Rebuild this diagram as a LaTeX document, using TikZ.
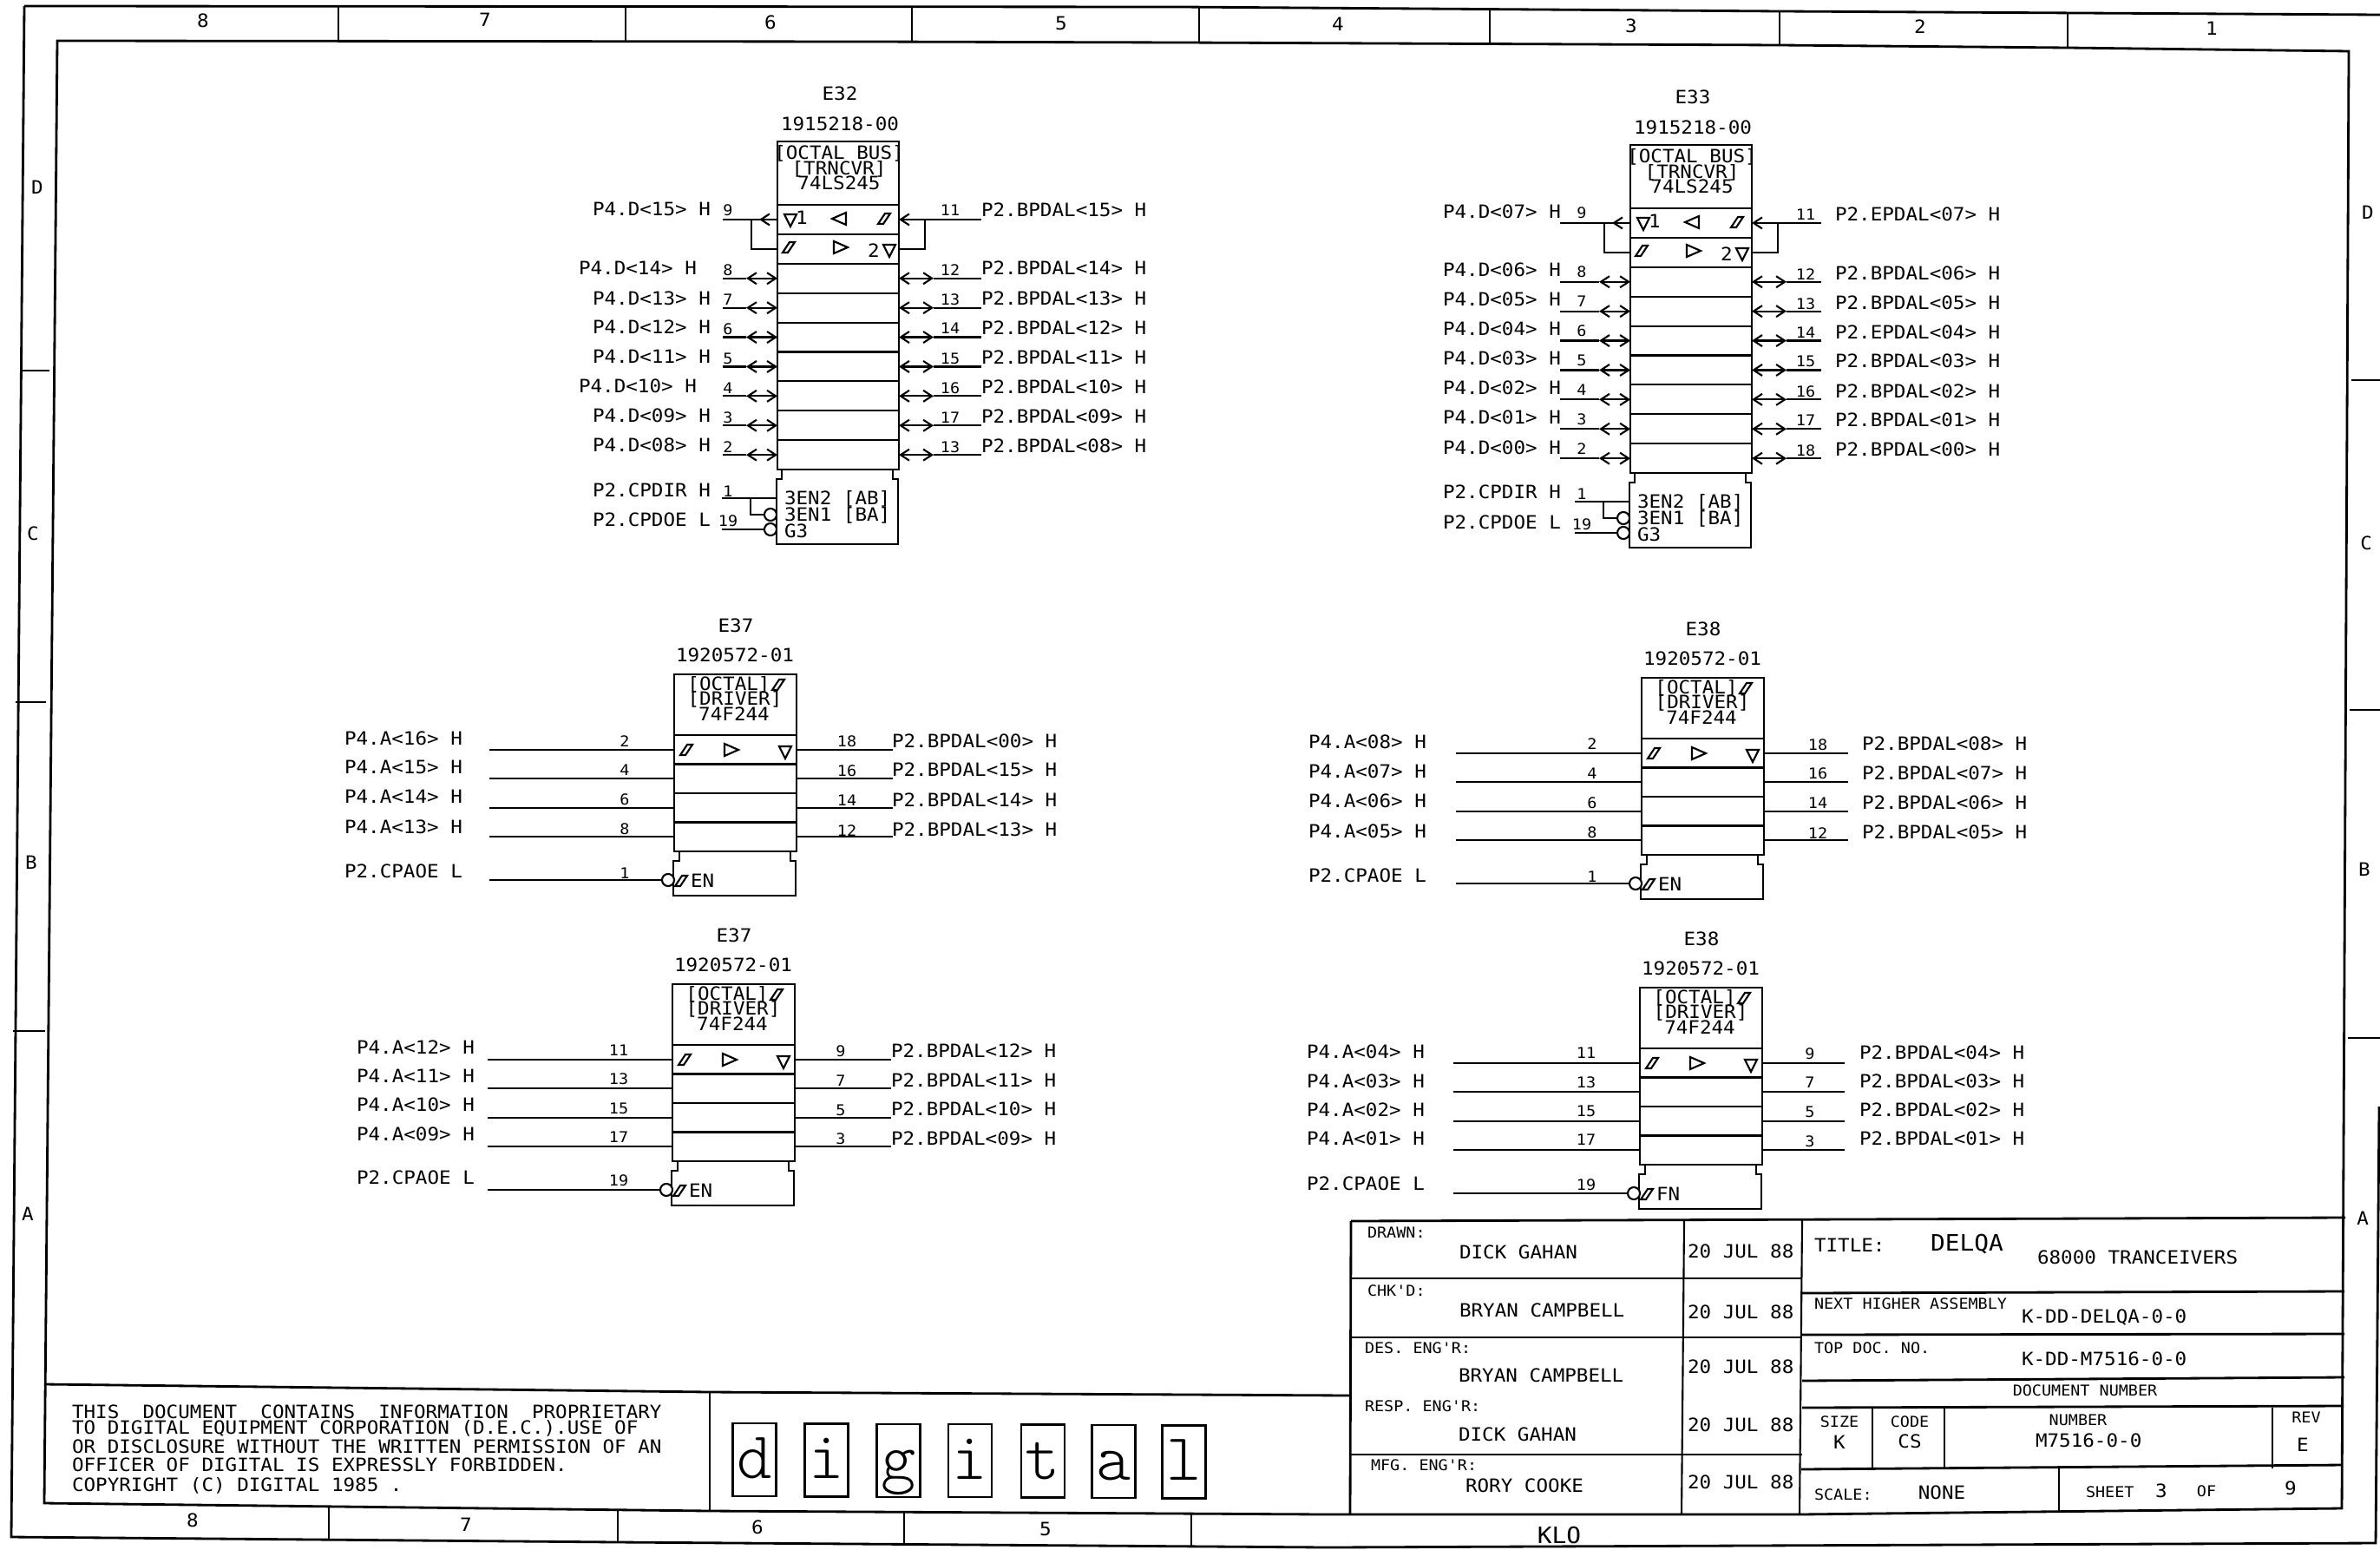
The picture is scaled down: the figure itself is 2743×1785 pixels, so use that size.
\documentclass[tikz,border=0pt]{standalone}
\usepackage{fontspec}
\usetikzlibrary{arrows.meta}
\newfontfamily\plotfont[FakeStretch=1.07]{DejaVu Sans Mono}
\tikzset{
    wire/.style={line width=0.6pt},
    frameline/.style={line width=0.8pt},
    thinrule/.style={line width=0.45pt},
    bidir/.style={wire,{Straight Barb[length=0.1cm,width=0.13cm]}-{Straight Barb[length=0.1cm,width=0.13cm]}},
    backarrow/.style={wire,-{Straight Barb[length=0.1cm,width=0.13cm]}},
    chipcell/.style 2 args={wire,draw,inner sep=0pt,outer sep=0pt,anchor=north west,minimum width=#1*0.01cm,minimum height=#2*0.01cm},
    bubble/.style={wire,draw,circle,fill=white,inner sep=0pt,outer sep=0pt,minimum size=0.14cm},
    sig/.style={font=\plotfont\fontsize{6}{7}\selectfont,inner sep=0pt,outer sep=0pt,text height=0.15cm,text depth=0pt},
    sigs/.style={font=\plotfont\fontsize{4.9}{6}\selectfont,inner sep=0pt,outer sep=0pt,text height=0.12cm,text depth=0pt},
    sigl/.style={font=\plotfont\fontsize{7.4}{9}\selectfont,inner sep=0pt,outer sep=0pt,text height=0.19cm,text depth=0pt},
    logobox/.style={wire,draw,inner sep=0pt,outer sep=0pt,minimum width=0.5cm,minimum height=0.84cm,text height=0.52cm,text depth=0.1cm,
        font=\fontfamily{lmtt}\fontseries{l}\fontsize{21.8}{24}\selectfont},
    hyst/.pic={\draw[wire] (-7,6) -- (-1,6) -- (7,-6) -- (1,-6) -- cycle;},
    tridown/.pic={\draw[wire] (-7,-7) -- (7,-7) -- (0,7) -- cycle;},
    trileft/.pic={\draw[wire] (8,-7) -- (8,7) -- (-8,0) -- cycle;},
    triright/.pic={\draw[wire] (-8,-7) -- (-8,7) -- (8,0) -- cycle;},
}
% id, title, left, top, west wire, east wire
\newcommand{\transcvr}[6]{
    \node[chipcell={140}{73}] (#1h) at (#3,#4) {};
    \foreach \row in {1,...,9}
        \node[chipcell={140}{33.9}] (#1r\row) at (#3,{#4+73+(\row-1)*33.9}) {};
    \draw[wire] (#1r9.south west) ++(5,0) -- ++(0,11) -- ++(-6,0) -- ++(0,75) -- ++(140,0) -- ++(0,-75) -- ++(-6,0) -- ++(0,-11);

    \node[sig] (#1a) at ({#3+71},{#4+13}) {[OCTAL BUS]};
    \node[sig] (#1b) at ({#3+71},{#4+31}) {[TRNCVR]};
    \node[sig] (#1d) at ({#3+71},{#4+48}) {74LS245};
    \node[sig] (#1e) at ({#3+72},{#4-55}) {#2};
    \node[sig] (#1f) at ({#3+72},{#4-20}) {1915218-00};

    \pic at ({#3+15},{#4+91}) {tridown};
    \node[sig] (#1s) at ({#3+28},{#4+88}) {1};
    \pic at ({#3+71},{#4+89}) {trileft};
    \pic at ({#3+123},{#4+89}) {hyst};
    \pic at ({#3+13},{#4+122}) {hyst};
    \pic at ({#3+73},{#4+122}) {triright};
    \node[sig] (#1u) at ({#3+111},{#4+126}) {2};
    \pic at ({#3+129},{#4+126}) {tridown};

    % enable rows
    \path (#1r1.west) ++(-#5,0) coordinate (#1w1);
    \path (#1r1.east) ++(#6,0) coordinate (#1x1);
    \path (#1r1.west) ++(-30,0) coordinate (#1y1);
    \path (#1r1.east) ++(30,0) coordinate (#1z1);
    \draw[backarrow] (#1r1.west) -- ++(-21,0);
    \draw[wire] (#1r1.west) -- (#1w1);
    \draw[backarrow] (#1x1) -- (#1r1.east);
    \draw[wire] (#1y1) |- (#1r2.west);
    \draw[wire] (#1z1) |- (#1r2.east);

    \foreach \row in {3,...,9} {
        \path (#1r\row.west) ++(-#5,0) coordinate (#1w\row);
        \path (#1r\row.west) ++(-36,0) coordinate (#1y\row);
        \path (#1r\row.east) ++(#6,0) coordinate (#1x\row);
        \path (#1r\row.east) ++(40,0) coordinate (#1z\row);
        \draw[wire] (#1w\row) -- (#1y\row);
        \draw[bidir] (#1y\row) -- (#1r\row.west);
        \draw[bidir] (#1r\row.east) -- (#1z\row);
        \draw[wire] (#1z\row) -- (#1x\row);
    }

    % control box
    \node[sig,anchor=west] (#1g) at ({#3+8},{#4+411}) {3EN2 [AB]};
    \node[sig,anchor=west] (#1i) at ({#3+8},{#4+430}) {3EN1 [BA]};
    \node[sig,anchor=west] (#1j) at ({#3+8},{#4+449}) {G3};
    \node[bubble] (#1k) at ({#3-8},{#4+430}) {};
    \node[bubble] (#1l) at ({#3-8},{#4+447}) {};
    \coordinate (#1m) at ({#3-64},{#4+411});
    \coordinate (#1n) at ({#3},{#4+411});
    \coordinate (#1o) at ({#3-31},{#4+411});
    \coordinate (#1q) at ({#3-64},{#4+447});
    \draw[wire] (#1m) -- (#1n);
    \draw[wire] (#1o) |- (#1k.west);
    \draw[wire] (#1q) -- (#1l.west);
}
% id, title, enable text, left, top, west wire, east wire
\newcommand{\driver}[7]{
    \node[chipcell={141}{70}] (#1h) at (#4,#5) {};
    \foreach \row in {1,...,4}
        \node[chipcell={141}{33.5}] (#1r\row) at (#4,{#5+70+(\row-1)*33.5}) {};
    \draw[wire] (#1r4.south west) ++(6,0) -- ++(0,11) -- ++(-7,0) -- ++(0,40) -- ++(141,0) -- ++(0,-40) -- ++(-6,0) -- ++(0,-11);

    \node[sig] (#1a) at ({#4+63},{#5+11}) {[OCTAL]};
    \pic at ({#4+120},{#5+12}) {hyst};
    \node[sig] (#1b) at ({#4+70},{#5+28}) {[DRIVER]};
    \node[sig] (#1d) at ({#4+69},{#5+46}) {74F244};
    \node[sig] (#1e) at ({#4+71},{#5-56}) {#2};
    \node[sig] (#1f) at ({#4+70},{#5-22}) {1920572-01};

    \pic at ({#4+14},{#5+87}) {hyst};
    \pic at ({#4+66},{#5+87}) {triright};
    \pic at ({#4+128},{#5+90}) {tridown};

    \foreach \row in {1,...,4} {
        \path (#1r\row.west) ++(-#6,0) coordinate (#1w\row);
        \path (#1r\row.east) ++(#7,0) coordinate (#1x\row);
        \draw[wire] (#1w\row) -- (#1r\row.west);
        \draw[wire] (#1r\row.east) -- (#1x\row);
    }

    % enable
    \pic at ({#4+8},{#5+238}) {hyst};
    \node[sig,anchor=west] (#1g) at ({#4+19},{#5+238}) {#3};
    \node[bubble] (#1k) at ({#4-7},{#5+237}) {};
    \coordinate (#1m) at ({#4-#6},{#5+237});
    \draw[wire] (#1m) -- (#1k.west);
}
% id, anchor, text x, pin x, list
\newcommand{\sigcol}[5]{
    \foreach \pin/\py/\lab/\ly in {#5} {
        \node[sigs] (#1n\pin) at (#4,\py) {\pin};
        \node[sig,anchor=#2] (#1t\pin) at (#3,\ly) {\lab};
    }
}
\begin{document}
\begin{tikzpicture}[x=0.01cm,y=-0.01cm]
    \useasboundingbox (0,0) rectangle (2743,1785);

    % drawing frame
    \draw[frameline] (28,7) -- (1360,8) -- (2051,13) -- (2743,17);
    \draw[frameline] (2742,1275) -- (2738,1778) -- (1530,1783) -- (712,1777) -- (13,1771) -- (28,7);
    \draw[frameline] (66,47) -- (1000,48) -- (1360,49) -- (2051,52) -- (2383,55) -- (2707,59) -- (2699,1738)
        -- (2074,1745) -- (1530,1745) -- (818,1741) -- (51,1732) -- cycle;

    \foreach \xx/\ya/\yb in {390/8/48,721/8/48,1051/8/49,1382/8/49,1717/10/50,2051/13/52,2383/15/55}
        \draw[thinrule] (\xx,\ya) -- (\xx,\yb);
    \foreach \xx/\ya/\yb in {379/1736/1775,712/1739/1777,1042/1742/1780,1373/1744/1782}
        \draw[thinrule] (\xx,\ya) -- (\xx,\yb);
    \foreach \ya/\xa/\xb in {427/23/57,809/18/53,1188/15/52,438/2710/2743,818/2708/2743,1196/2706/2743}
        \draw[thinrule] (\xa,\ya) -- (\xb,\ya);

    \foreach \id/\xx/\yy/\lab in {ta/234/24/8,tb/559/23/7,tc/888/26/6,td/1223/27/5,te/1542/28/4,tf/1880/30/3,tg/2213/31/2,th/2549/33/1,
            ba/222/1752/8,bb/537/1757/7,bc/873/1760/6,bd/1205/1762/5,
            la/43/216/D,lb/38/615/C,lc/36/994/B,ld/32/1399/A,
            ra/2729/245/D,rb/2727/626/C,rc/2725/1002/B,rd/2723/1404/A}
        \node[sig] (zone\id) at (\xx,\yy) {\lab};

    % transceivers
    \transcvr{e32}{E32}{896}{163}{63}{95}
    \sigcol{e32}{west}{683}{839}{9/242/{P4.D<15> H}/241,7/345/{P4.D<13> H}/344,6/379/{P4.D<12> H}/377,5/413/{P4.D<11> H}/411,
        3/481/{P4.D<09> H}/479,2/515/{P4.D<08> H}/513,1/566/{P2.CPDIR H}/565,19/600/{P2.CPDOE L}/599}
    \sigcol{e32}{west}{667}{839}{8/311/{P4.D<14> H}/309,4/447/{P4.D<10> H}/445}
    \sigcol{e32r}{west}{1131}{1095}{11/242/{P2.BPDAL<15> H}/242,12/311/{P2.BPDAL<14> H}/309,13/345/{P2.BPDAL<13> H}/344,14/378/{P2.BPDAL<12> H}/378,
        15/413/{P2.BPDAL<11> H}/412,16/447/{P2.BPDAL<10> H}/446,17/481/{P2.BPDAL<09> H}/480,13/515/{P2.BPDAL<08> H}/514}

    \transcvr{e33}{E33}{1879}{167}{81}{80}
    \sigcol{e33}{west}{1663}{1823}{9/245/{P4.D<07> H}/244,8/313/{P4.D<06> H}/311,7/347/{P4.D<05> H}/345,6/381/{P4.D<04> H}/379,
        5/415/{P4.D<03> H}/413,4/449/{P4.D<02> H}/447,3/483/{P4.D<01> H}/481,2/517/{P4.D<00> H}/516,1/569/{P2.CPDIR H}/567,19/604/{P2.CPDOE L}/602}
    \sigcol{e33r}{west}{2115}{2081}{11/247/{P2.EPDAL<07> H}/247,12/316/{P2.BPDAL<06> H}/315,13/350/{P2.BPDAL<05> H}/349,14/383/{P2.EPDAL<04> H}/383,
        15/416/{P2.BPDAL<03> H}/416,16/451/{P2.BPDAL<02> H}/451,17/484/{P2.BPDAL<01> H}/484,18/519/{P2.BPDAL<00> H}/518}

    % drivers
    \driver{e37u}{E37}{EN}{777}{777}{213}{111}
    \sigcol{e37u}{west}{397}{720}{2/854/{P4.A<16> H}/851,4/887/{P4.A<15> H}/884,6/921/{P4.A<14> H}/918,8/955/{P4.A<13> H}/953,1/1006/{P2.CPAOE L}/1004}
    \sigcol{e37ur}{west}{1028}{976}{18/854/{P2.BPDAL<00> H}/854,16/888/{P2.BPDAL<15> H}/887,14/922/{P2.BPDAL<14> H}/922,12/957/{P2.BPDAL<13> H}/956}

    \driver{e37l}{E37}{EN}{775}{1134}{213}{111}
    \sigcol{e37l}{west}{411}{713}{11/1210/{P4.A<12> H}/1207,13/1243/{P4.A<11> H}/1240,15/1277/{P4.A<10> H}/1273,17/1310/{P4.A<09> H}/1307,19/1360/{P2.CPAOE L}/1357}
    \sigcol{e37lr}{west}{1027}{969}{9/1211/{P2.BPDAL<12> H}/1211,7/1245/{P2.BPDAL<11> H}/1245,5/1279/{P2.BPDAL<10> H}/1278,3/1312/{P2.BPDAL<09> H}/1312}

    \driver{e38u}{E38}{EN}{1892}{781}{214}{97}
    \sigcol{e38u}{west}{1508}{1835}{2/857/{P4.A<08> H}/855,4/891/{P4.A<07> H}/889,6/925/{P4.A<06> H}/923,8/959/{P4.A<05> H}/958,1/1010/{P2.CPAOE L}/1009}
    \sigcol{e38ur}{west}{2146}{2095}{18/858/{P2.BPDAL<08> H}/857,16/891/{P2.BPDAL<07> H}/891,14/925/{P2.BPDAL<06> H}/925,12/960/{P2.BPDAL<05> H}/959}

    \driver{e38l}{E38}{FN}{1890}{1138}{215}{95}
    \sigcol{e38l}{west}{1506}{1828}{11/1213/{P4.A<04> H}/1212,13/1247/{P4.A<03> H}/1246,15/1280/{P4.A<02> H}/1279,17/1313/{P4.A<01> H}/1312,19/1365/{P2.CPAOE L}/1364}
    \sigcol{e38lr}{west}{2143}{2086}{9/1214/{P2.BPDAL<04> H}/1213,7/1247/{P2.BPDAL<03> H}/1246,5/1281/{P2.BPDAL<02> H}/1279,3/1315/{P2.BPDAL<01> H}/1312}

    % notice
    \draw[frameline] (51,1595) -- (818,1604) -- (1557,1608);
    \draw[thinrule] (818,1604) -- (818,1741);
    \node[sig,anchor=west] (notea) at (83,1627) {THIS\ \ DOCUMENT\ \ CONTAINS\ \ INFORMATION\ \ PROPRIETARY};
    \node[sig,anchor=west] (noteb) at (83,1645) {TO DIGITAL EQUIPMENT CORPORATION (D.E.C.).USE OF};
    \node[sig,anchor=west] (notec) at (83,1667) {OR DISCLOSURE WITHOUT THE WRITTEN PERMISSION OF AN};
    \node[sig,anchor=west] (noted) at (83,1688) {OFFICER OF DIGITAL IS EXPRESSLY FORBIDDEN.};
    \node[sig,anchor=west] (notee) at (83,1711) {COPYRIGHT (C) DIGITAL 1985 .};

    % logo
    \foreach \id/\xx/\yy/\lab in {a/869.5/1682/d,b/952.5/1682.5/i,c/1035.5/1683/g,d/1118/1683/i,e/1202/1683.5/t,f/1283.5/1684/a,g/1364.5/1684.5/l}
        \node[logobox] (logo\id) at (\xx,\yy) {\lab};

    % title block
    \draw[frameline] (1557,1407) -- (2703,1403);
    \draw[frameline] (1557,1407) -- (1556,1745);
    \draw[wire] (1941,1407) -- (1938,1745);
    \draw[wire] (2077,1405) -- (2074,1745);
    \draw[frameline] (1557,1473) -- (2077,1473);
    \draw[frameline] (1557,1541) -- (2077,1541);
    \draw[frameline] (1557,1676) -- (2077,1676);
    \draw[frameline] (2077,1490) -- (2702,1488);
    \draw[frameline] (2077,1538) -- (2702,1537);
    \draw[frameline] (2077,1591) -- (2702,1587);
    \draw[frameline] (2077,1622) -- (2701,1620);
    \draw[frameline] (2076,1693) -- (2700,1688);
    \foreach \xx in {2158,2241,2619}
        \draw[wire] (\xx,1622) -- (\xx,1692);
    \draw[wire] (2373,1692) -- (2373,1742);

    \foreach \id/\xx/\yy/\lab in {a/1576/1420/DRAWN:,b/1576/1487/CHK'D:,c/1573/1553/DES. ENG'R:,d/1573/1620/RESP. ENG'R:,e/1580/1688/MFG. ENG'R:,
            f/2091/1502/NEXT HIGHER ASSEMBLY,g/2091/1553/TOP DOC. NO.,h/2091/1722/SCALE:,i/2404/1719/SHEET}
        \node[sigs,anchor=west] (tbs\id) at (\xx,\yy) {\lab};
    \foreach \id/\xx/\yy/\lab in {a/2403/1602/DOCUMENT NUMBER,b/2120/1638/SIZE,c/2201/1638/CODE,d/2395/1636/NUMBER,e/2658/1633/REV,f/2543/1718/OF}
        \node[sigs] (tbc\id) at (\xx,\yy) {\lab};
    \foreach \id/\xx/\yy/\lab in {a/1682/1443/DICK GAHAN,b/1682/1510/BRYAN CAMPBELL,c/1681/1585/BRYAN CAMPBELL,d/1681/1653/DICK GAHAN,e/1689/1712/RORY COOKE,
            f/1945/1442/20 JUL 88,g/1945/1512/20 JUL 88,h/1945/1575/20 JUL 88,i/1945/1642/20 JUL 88,j/1945/1708/20 JUL 88,
            k/2091/1435/TITLE:,l/2348/1449/68000 TRANCEIVERS,m/2330/1517/K-DD-DELQA-0-0,n/2330/1566/K-DD-M7516-0-0,o/2346/1660/M7516-0-0}
        \node[sig,anchor=west] (tbv\id) at (\xx,\yy) {\lab};
    \foreach \id/\xx/\yy/\lab in {a/2120/1662/K,b/2201/1661/CS,c/2654/1665/E,d/2238/1720/NONE,e/2491/1718/3,f/2640/1715/9}
        \node[sig] (tbm\id) at (\xx,\yy) {\lab};
    \node[sigl,anchor=west] (tbtitle) at (2225,1432) {DELQA};
    \node[sigl] (klo) at (1797,1769) {KLO};
\end{tikzpicture}
\end{document}
